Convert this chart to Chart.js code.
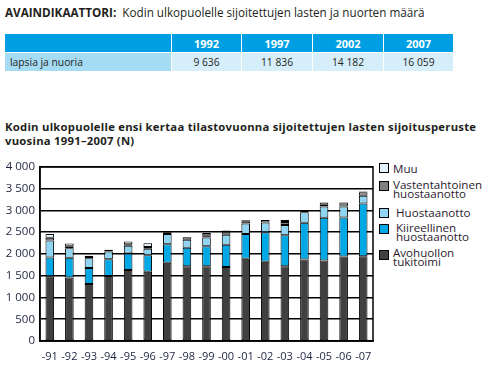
<!DOCTYPE html>
<html>
<head>
<meta charset="utf-8">
<script src="https://cdn.jsdelivr.net/npm/chart.js@4"></script>
<style>
  body { margin: 0; width: 492px; height: 366px; background: #fff; font-family: "Open Sans", "Noto Sans", sans-serif; color: #231f20; position: relative; overflow: hidden; }
  .abs { position: absolute; white-space: nowrap; }
  #head { left: 5px; top: 4px; font-size: 11.7px; }
  #tbl { position: absolute; left: 5px; top: 34px; border-collapse: separate; border-spacing: 0; font-size: 10.3px; }
  #tbl td { padding: 0; height: 18px; border-right: 1px solid #fff; border-bottom: 1px solid #fff; }
  #tbl .hd { background: #009fe3; color: #fff; font-weight: bold; text-align: center; font-size: 11px; }
  #tbl .lb { background: #a6dbf4; padding-left: 5px; }
  #tbl .vl { background: #d6eefa; text-align: center; }
  #ctitle { left: 5px; top: 120px; font-size: 11.3px; font-weight: bold; line-height: 14px; letter-spacing: 0.25px; }
  #wrap { position: absolute; left: 0; top: 155px; width: 375px; height: 211px; }
  .lg { position: absolute; left: 379px; font-size: 11.6px; line-height: 9px; color: #2b1b30; }
  .lg i { position: absolute; left: 0; width: 8px; height: 8px; border: 1px solid #000; }
  .lg span { position: absolute; left: 14px; }
</style>
</head>
<body>
<div class="abs" id="head"><b>AVAINDIKAATTORI:</b>&nbsp; Kodin ulkopuolelle sijoitettujen lasten ja nuorten määrä</div>
<table id="tbl">
  <tr><td class="hd" style="width:166px"></td><td class="hd" style="width:69px">1992</td><td class="hd" style="width:70px">1997</td><td class="hd" style="width:70px">2002</td><td class="hd" style="width:69px">2007</td></tr>
  <tr><td class="lb">lapsia ja nuoria</td><td class="vl">9 636</td><td class="vl">11 836</td><td class="vl">14 182</td><td class="vl">16 059</td></tr>
</table>
<div class="abs" id="ctitle">Kodin ulkopuolelle ensi kertaa tilastovuonna sijoitettujen lasten sijoitusperuste<br>vuosina 1991–2007 (N)</div>
<div id="wrap"><canvas id="c" width="375" height="211"></canvas></div>
<div id="legend"></div>
<script>
const YEARS = ['-91', '-92', '-93', '-94', '-95', '-96', '-97', '-98', '-99', '-00', '-01', '-02', '-03', '-04', '-05', '-06', '-07'];
const Y_TICKS = [0, 500, 1000, 1500, 2000, 2500, 3000, 3500, 4000];

// segment sizes, bottom to top
const AVOHUOLTO   = [1490, 1460, 1310, 1495, 1630, 1590, 1795, 1720, 1720, 1700, 1890, 1820, 1715, 1875, 1850, 1940, 1945];
const KIIREELLINEN = [430, 450, 365, 385, 380, 380, 425, 425, 455, 510, 570, 680, 715, 840, 980, 900, 1215];
const HUOSTAANOTTO = [390, 220, 225, 175, 180, 150, 240, 180, 205, 230, 240, 225, 235, 245, 260, 250, 180];
const VASTENTAHTOINEN = [60, 45, 30, 10, 30, 40, 40, 60, 50, 60, 50, 55, 70, 30, 40, 90, 80];
const MUU = [90, 65, 30, 30, 65, 85, 10, 5, 50, 40, 25, 0, 45, 10, 50, 10, 15];

const SERIES = [
  { label: 'Avohuollon tukitoimi', data: AVOHUOLTO, color: '#404041' },
  { label: 'Kiireellinen huostaanotto', data: KIIREELLINEN, color: '#00a9e6' },
  { label: 'Huostaanotto', data: HUOSTAANOTTO, color: '#8fd4f1' },
  { label: 'Vastentahtoinen huostaanotto', data: VASTENTAHTOINEN, color: '#808080' },
  { label: 'Muu', data: MUU, color: '#e8f5fc' }
];

// legend, HTML beside the plot
const LEGEND = [
  { lines: ['Muu'], box: 163, text: 164, color: '#e8f5fc', indent: 14 },
  { lines: ['Vastentahtoinen', 'huostaanotto'], box: 181, text: 180, color: '#808080', indent: 14 },
  { lines: ['Huostaanotto'], box: 208, text: 208, color: '#8fd4f1', indent: 17 },
  { lines: ['Kiireellinen', 'huostaanotto'], box: 224, text: 223, color: '#00a9e6', indent: 17 },
  { lines: ['Avohuollon', 'tukitoimi'], box: 250, text: 248, color: '#404041', indent: 14 }
];
const lg = document.getElementById('legend');
LEGEND.forEach(it => {
  const d = document.createElement('div');
  d.className = 'lg';
  d.style.top = it.box + 'px';
  d.innerHTML = '<i style="background:' + it.color + '"></i><span style="left:' + it.indent + 'px;top:' + (it.text - it.box) + 'px">' + it.lines.join('<br>') + '</span>';
  lg.appendChild(d);
});

const frame = {
  id: 'frame',
  afterDatasetsDraw(chart) {
    const a = chart.chartArea, ctx = chart.ctx;
    ctx.save();
    ctx.strokeStyle = '#000';
    ctx.lineWidth = 1.5;
    ctx.strokeRect(a.left, a.top, a.right - a.left, a.bottom - a.top);
    ctx.restore();
  }
};

new Chart(document.getElementById('c'), {
  type: 'bar',
  data: {
    labels: YEARS,
    datasets: SERIES.map(s => ({
      label: s.label,
      data: s.data,
      backgroundColor: s.color,
      borderColor: '#000',
      borderWidth: 1,
      borderSkipped: false,
      barPercentage: 0.44,
      categoryPercentage: 1
    }))
  },
  options: {
    responsive: false,
    animation: false,
    layout: { padding: { top: 9, right: 2, left: 0, bottom: 0 } },
    plugins: { legend: { display: false }, tooltip: { enabled: false } },
    scales: {
      x: {
        stacked: true,
        grid: { display: false },
        border: { color: '#000', width: 1.5 },
        ticks: { color: '#1f2340', font: { family: 'Open Sans', size: 11 }, padding: 1, maxRotation: 0, autoSkip: false },
        afterFit: s => { s.height = 25; }
      },
      y: {
        stacked: true,
        min: 0,
        max: 4000,
        afterBuildTicks: s => { s.ticks = Y_TICKS.map(v => ({ value: v })); },
        grid: { color: '#000', lineWidth: 1.5, drawTicks: false },
        border: { color: '#000', width: 1.5 },
        ticks: {
          color: '#1f2340',
          font: { family: 'Open Sans', size: 11.5 },
          padding: 5,
          callback: v => String(v).replace(/\B(?=(\d{3})+(?!\d))/g, ' ')
        },
        afterFit: s => { s.width = 40; }
      }
    }
  },
  plugins: [frame]
});
</script>
</body>
</html>
